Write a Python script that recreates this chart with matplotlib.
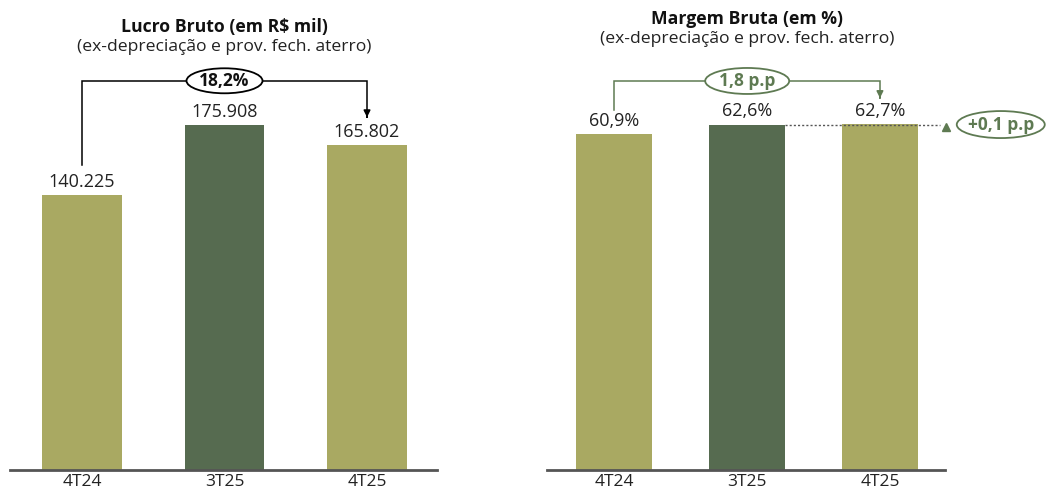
import numpy as np
import matplotlib
matplotlib.use("Agg")
import matplotlib.pyplot as plt
from matplotlib.patches import Ellipse
from matplotlib.transforms import IdentityTransform

plt.rcParams['font.family'] = ['Open Sans', 'DejaVu Sans']

periods = ["4T24", "3T25", "4T25"]
lucro_bruto = [140.225, 175.908, 165.802]
lucro_labels = ["140.225", "175.908", "165.802"]
margem_bruta = [60.9, 62.6, 62.7]
margem_labels = ["60,9%", "62,6%", "62,7%"]
var_lucro = "18,2%"
var_margem = "1,8 p.p"
var_margem_tri = "+0,1 p.p"

olive = "#A9A962"
dark_green = "#566B50"
ann_green = "#5E7A52"
bar_colors = [olive, dark_green, olive]

W, H = 1050, 491
fig = plt.figure(figsize=(W / 100, H / 100), dpi=100)


def px_axes(x0, x1, y_top, y_base):
    return fig.add_axes([x0 / W, (H - y_base) / H, (x1 - x0) / W, (y_base - y_top) / H])


def style_axes(ax):
    for s in ["top", "right", "left"]:
        ax.spines[s].set_visible(False)
    ax.spines["bottom"].set_color("#555555")
    ax.spines["bottom"].set_linewidth(2)
    ax.set_yticks([])
    ax.set_xticks(range(len(periods)))
    ax.set_xticklabels(periods, fontsize=12.5, color="#222222")
    ax.tick_params(axis="x", length=0, pad=3)


def oval_label(ax, x, y, label, color, w_px, h_px):
    # white ellipse with outline, sized in pixels, centred on a data point
    cx, cy = ax.transData.transform((x, y))
    ax.add_patch(Ellipse((cx, cy), w_px, h_px, transform=IdentityTransform(),
                         fc="white", ec=color, lw=1.3, zorder=5, clip_on=False))
    ax.text(x, y, label, ha="center", va="center", fontsize=12.5, fontweight="bold",
            color="#111111" if color == "black" else color, zorder=6, clip_on=False)


def bracket(ax, y_start, y_top, y_end, label, color, w_px, h_px):
    # line up from first bar, across, and arrow down onto last bar
    ax.plot([0, 0, 2, 2], [y_start, y_top, y_top, y_end + 0.02 * (y_top - y_start)],
            color=color, lw=1.1, clip_on=False, solid_joinstyle="miter")
    ax.annotate("", xy=(2, y_end), xytext=(2, y_end + 0.001),
                arrowprops=dict(arrowstyle="-|>", color=color, lw=1.1, mutation_scale=10),
                annotation_clip=False)
    oval_label(ax, 1, y_top, label, color, w_px, h_px)


# Lucro Bruto
ax1 = px_axes(10, 437, 60, 470)
bars = ax1.bar(range(3), lucro_bruto, width=0.555, color=bar_colors)
ax1.bar_label(bars, labels=lucro_labels, padding=3, fontsize=13, color="#222222")
ax1.set_xlim(-0.505, 2.491)
ax1.set_ylim(0, 209)
style_axes(ax1)
fig.text(224 / W, 1 - 27 / H, "Lucro Bruto (em R$ mil)", ha="center", va="center",
         fontsize=12.7, fontweight="bold", color="#111111")
fig.text(224 / W, 1 - 47 / H, "(ex-depreciação e prov. fech. aterro)", ha="center",
         va="center", fontsize=12.6, color="#222222")
bracket(ax1, lucro_bruto[0] + 15, 198.4, lucro_bruto[2] + 14, var_lucro, "black", 76, 25)

# Margem Bruta
ax2 = px_axes(547, 945, 60, 470)
bars = ax2.bar(range(3), margem_bruta, width=0.573, color=bar_colors)
ax2.bar_label(bars, labels=margem_labels, padding=3, fontsize=13, color="#222222")
ax2.set_xlim(-0.508, 2.49)
ax2.set_ylim(0, 74.3)
style_axes(ax2)
fig.text(747 / W, 1 - 19 / H, "Margem Bruta (em %)", ha="center", va="center",
         fontsize=12.7, fontweight="bold", color="#111111")
fig.text(747 / W, 1 - 39 / H, "(ex-depreciação e prov. fech. aterro)", ha="center",
         va="center", fontsize=12.6, color="#222222")
bracket(ax2, margem_bruta[0] + 4.3, 70.5, margem_bruta[2] + 4.7, var_margem, ann_green, 84, 26)

# quarter-over-quarter change
ax2.plot([1 + 0.573 / 2, 2.45], [margem_bruta[1]] * 2, ls=(0, (1.5, 1.5)),
         color="#555555", lw=1, clip_on=False)
ax2.plot([2.5], [margem_bruta[1] - 0.4], marker="^", color=ann_green, ms=5.5, clip_on=False)
oval_label(ax2, 2.91, margem_bruta[1], var_margem_tri, ann_green, 88, 27)

fig.savefig("out.png", dpi=100)
